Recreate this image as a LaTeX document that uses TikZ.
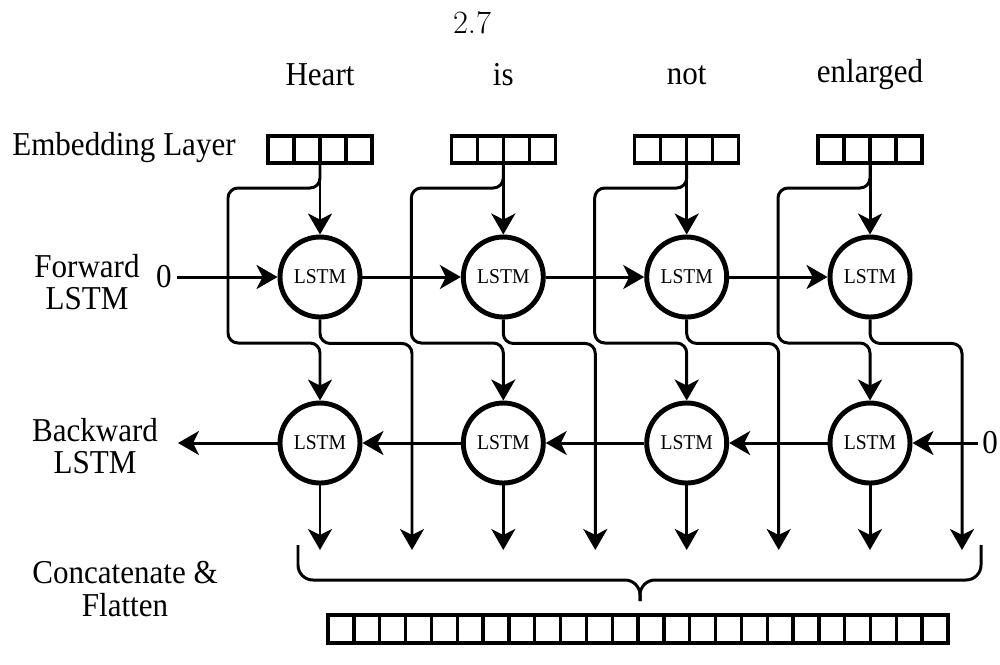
\documentclass[tikz,border=0pt]{standalone}
\usepackage{fontspec}
\newfontfamily\tnr[FakeStretch=0.93]{Liberation Serif}
\usetikzlibrary{arrows.meta}

\tikzset{
  lbl/.style={font=\tnr\fontsize{19}{18.7}\selectfont, inner sep=0pt, align=center},
  lstm/.style={circle, draw, line width=2.8pt, minimum size=1.6cm, inner sep=0pt,
    font=\tnr\fontsize{12}{14}\selectfont},
  vec/.style={draw, line width=1.9pt, outer sep=0pt, minimum width=2.08cm, minimum height=0.54cm, inner sep=0pt},
  conn/.style={line width=1.7pt, -{Stealth[length=0.42cm, width=0.48cm, inset=0.12cm]}},
  brace/.style={line width=1.7pt, rounded corners=0.3cm}
}

\begin{document}
\begin{tikzpicture}[x=0.02cm, y=-0.02cm]
\useasboundingbox (0,0) rectangle (1000,664);

\node[font=\fontsize{18.5}{20}\selectfont, inner sep=0pt] (pg) at (472,22.5) {2.7};

% row labels
\node[lbl, anchor=west] (lemb) at (12,148) {Embedding Layer};
\node[lbl] (lfwd) at (87,282) {Forward\\LSTM};
\node[lbl] (lbwd) at (95,446) {Backward\\LSTM};
\node[lbl] (lcat) at (125,589) {Concatenate \&\\Flatten};

% one column per word
\foreach \i/\x/\w in {1/320/Heart, 2/503.3/is, 3/686.7/not, 4/870/enlarged} {
  \node[lbl] (w\i) at (\x,75) {\w};
  \node[vec] (e\i) at (\x,149.5) {};
  \foreach \k in {1,2,3}
    \draw[line width=1.9pt] ([xshift=\k*0.52cm]e\i.south west) -- ([xshift=\k*0.52cm]e\i.north west);
  \node[lstm] (f\i) at (\x,277) {LSTM};
  \node[lstm] (b\i) at (\x,443) {LSTM};
  \coordinate (o\i) at (\x+92,550);
  \coordinate (p\i) at (\x,550);
  \draw[conn] (e\i) -- (f\i);
  \draw[conn, rounded corners=0.2cm] (e\i.south) -- ++(0,25) -- ++(-92,0) -- ++(0,155) -- ++(92,0) -- (b\i.north);
  \draw[conn, rounded corners=0.2cm] (f\i.south) -- ++(0,24) -| (o\i);
  \draw[conn] (b\i.south) -- (p\i);
}

% recurrent links
\foreach \i [count=\j from 2] in {1,2,3} {
  \draw[conn] (f\i.east) -- (f\j.west);
  \draw[conn] (b\j.west) -- (b\i.east);
}

\node[lbl] (z1) at (164,277) {0};
\draw[conn] ([xshift=3pt]z1.east) -- (f1.west);
\node[lbl] (z2) at (990,443) {0};
\draw[conn] ([xshift=-2pt]z2.west) -- (b4.east);
\coordinate (bout) at (178,443);
\draw[conn] (b1.west) -- (bout);

% concatenation
\coordinate (brl) at (298,545);
\coordinate (brr) at (981,545);
\coordinate (brc) at (640,580);
\coordinate (brm) at (640,601);
\draw[brace] (brl) |- (brc) -- (brm);
\draw[brace] (brr) |- (brc) -- (brm);

\node[vec, minimum width=12.4cm, minimum height=0.56cm] (cat) at (638,629) {};
\foreach \k in {1,...,23}
  \draw[line width=1.9pt] ([xshift=\k*0.5167cm]cat.south west) -- ([xshift=\k*0.5167cm]cat.north west);
\end{tikzpicture}
\end{document}
